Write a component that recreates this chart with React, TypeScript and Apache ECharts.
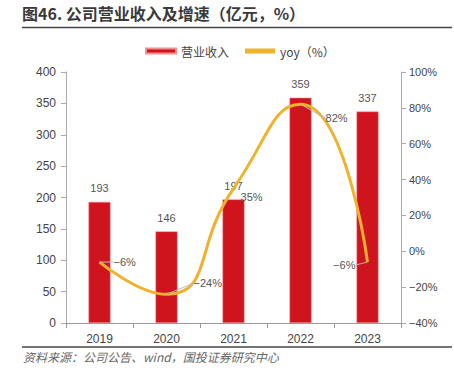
import React, { useEffect, useRef } from "react";
import * as echarts from "echarts";

const categories = ["2019", "2020", "2021", "2022", "2023"];
const revenue = [193, 146, 197, 359, 337];
const yoy = [-6, -24, 35, 82, -6];
const yoyLabels = ["−6%", "−24%", "35%", "82%", "−6%"];

export default function App() {
  const ref = useRef<HTMLDivElement>(null);
  useEffect(() => {
    const chart = echarts.init(ref.current!, undefined, { renderer: "svg" });
    const font = "'Liberation Sans', Arial, sans-serif";
    const cjk = "'Noto Sans CJK SC', sans-serif";
    const labelOffsets = [
      { dx: 12, dy: 0, pos: "right" },
      { dx: 25, dy: -11, pos: "right" },
      { dx: 5, dy: 8, pos: "right" },
      { dx: 23, dy: 14, pos: "right" },
      { dx: -10, dy: 3, pos: "left" },
    ];
    chart.setOption({
      animation: false,
      textStyle: { fontFamily: font },
      graphic: [
        {
          type: "text",
          left: 22,
          top: 5,
          style: {
            text: "图46. 公司营业收入及增速（亿元，%）",
            font: `bold 16px ${cjk}`,
            fill: "#3a3a3a",
          },
        },
        {
          type: "line",
          shape: { x1: 22, y1: 27.5, x2: 452, y2: 27.5 },
          style: { stroke: "#444", lineWidth: 1.5 },
        },
        {
          type: "line",
          shape: { x1: 22, y1: 347, x2: 452, y2: 347 },
          style: { stroke: "#444", lineWidth: 1.5 },
        },
        {
          type: "text",
          left: 23,
          top: 350,
          style: {
            text: "资料来源：公司公告、wind，国投证券研究中心",
            font: `italic 12px ${cjk}`,
            fill: "#666",
          },
        },
      ],
      legend: {
        top: 40,
        left: 140,
        itemWidth: 30,
        itemHeight: 5,
        itemGap: 16,
        textStyle: { fontSize: 12, color: "#444", fontFamily: cjk },
        data: [
          { name: "营业收入", icon: "rect" },
          { name: "yoy（%）", icon: "rect", itemStyle: { color: "#eeb22d" } },
        ],
      },
      grid: { left: 66, right: 53, top: 72, bottom: 60 },
      xAxis: {
        type: "category",
        data: categories,
        axisLine: { lineStyle: { color: "#999" } },
        axisTick: { show: true, alignWithLabel: false, lineStyle: { color: "#999" } },
        axisLabel: { color: "#444", fontSize: 12, margin: 10 },
      },
      yAxis: [
        {
          type: "value",
          min: 0,
          max: 400,
          interval: 50,
          splitLine: { show: false },
          axisLine: { show: true, lineStyle: { color: "#aaa" } },
          axisTick: { show: true, lineStyle: { color: "#aaa" } },
          axisLabel: { color: "#444", fontSize: 12, margin: 10 },
        },
        {
          type: "value",
          min: -40,
          max: 100,
          interval: 20,
          splitLine: { show: false },
          axisLine: { show: true, lineStyle: { color: "#aaa" } },
          axisTick: { show: true, lineStyle: { color: "#aaa" } },
          axisLabel: { color: "#444", fontSize: 11, margin: 8, formatter: (v: number) => `${v < 0 ? "−" + Math.abs(v) : v}%` },
        },
      ],
      series: [
        {
          name: "营业收入",
          type: "bar",
          data: revenue,
          barWidth: 22,
          itemStyle: { color: "#d0141d", borderColor: "#f09090", borderWidth: 0.5 },
          label: { show: true, position: "top", color: "#555", fontSize: 11, distance: 8 },
        },
        {
          name: "yoy（%）",
          type: "line",
          yAxisIndex: 1,
          smooth: 0.55,
          symbol: "circle",
          symbolSize: 0.1,
          showSymbol: true,
          z: 3,
          lineStyle: { color: "#eeb22d", width: 3 },
          itemStyle: { color: "#eeb22d" },
          label: { show: true, color: "#555", fontSize: 11 },
          data: yoy.map((v, i) => ({
            value: v,
            label: {
              show: true,
              position: labelOffsets[i].pos,
              formatter: yoyLabels[i],
              color: "#555",
              fontSize: 11,
              distance: 2,
            },
            labelLine: { show: i !== 2, lineStyle: { color: "#bbb", width: 1 } },
          })),
          labelLayout: (p: any) => ({ dx: labelOffsets[p.dataIndex].dx, dy: labelOffsets[p.dataIndex].dy }),
          labelLine: { show: true, lineStyle: { color: "#bbb", width: 1 } },
        },
      ],
    });
    return () => chart.dispose();
  }, []);
  return <div ref={ref} style={{ width: 454, height: 383, position: "absolute", left: 0, top: 0 }} />;
}
